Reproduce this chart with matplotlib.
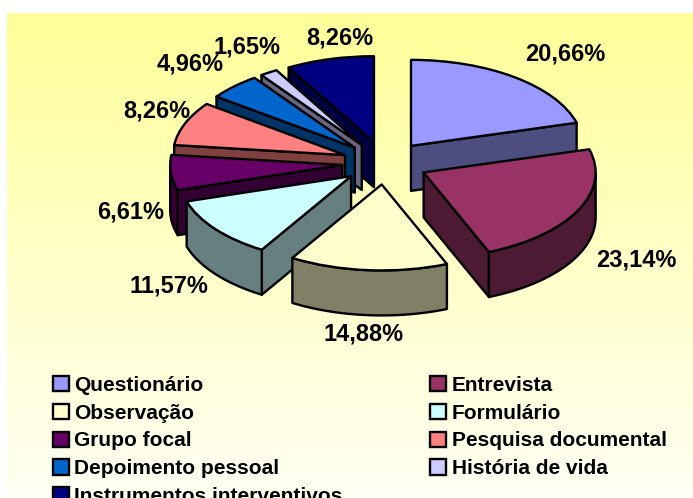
import numpy as np
import matplotlib
matplotlib.use("Agg")
import matplotlib.pyplot as plt
from matplotlib.patches import Polygon

plt.rcParams['font.family'] = ['Liberation Sans', 'DejaVu Sans']

categories = ["Questionário", "Entrevista", "Observação", "Formulário", "Grupo focal",
              "Pesquisa documental", "Depoimento pessoal", "História de vida",
              "Instrumentos interventivos"]
values = [20.66, 23.14, 14.88, 11.57, 6.61, 8.26, 4.96, 1.65, 8.26]
labels = ["20,66%", "23,14%", "14,88%", "11,57%", "6,61%", "8,26%", "4,96%", "1,65%", "8,26%"]
colors = ["#9999FF", "#993366", "#FFFFCC", "#CCFFFF", "#660066",
          "#FF8080", "#0066CC", "#CCCCFF", "#000080"]

# label centres in pixels of the 693x498 picture
label_px = [(565, 54), (636, 260), (364, 334), (169, 286), (131, 212),
            (157, 111), (190, 64), (247, 47), (340, 38)]
# drawing order, back to front
draw_order = [8, 7, 6, 5, 4, 3, 0, 1, 2]
legend_order = [0, 2, 4, 6, 8, 1, 3, 5, 7]

W, H = 693, 498
EXPLODE = 0.25
DEPTH = 45 / 86
edge = dict(edgecolor="black", linewidth=1.7, joinstyle="round")

fig = plt.figure(figsize=(W / 100, H / 100), dpi=100, facecolor="white")

# yellow gradient behind the pie
bg = fig.add_axes([7 / W, 0, (W - 7) / W, (H - 13) / H])
grad = np.linspace(0, 1, 256).reshape(-1, 1)
cmap = matplotlib.colors.LinearSegmentedColormap.from_list("bg", ["#FFFF99", "#FFFFF4"])
bg.imshow(grad, aspect="auto", cmap=cmap)
bg.axis("off")

ax = fig.add_axes([0, 0, 1, 1], facecolor="none")
wedges, _ = ax.pie(values, colors=colors, explode=[EXPLODE] * len(values), startangle=90,
                   counterclock=False, radius=1, normalize=True,
                   wedgeprops=edge)
ax.set_aspect("auto")
ax.set_xlim(-385 / 172, (W - 385) / 172)
ax.set_ylim((163 - H) / 86, 163 / 86)
ax.axis("off")

# clockwise angles from the top, in degrees
fracs = np.array(values) / sum(values) * 360
ends = np.cumsum(fracs)
starts = ends - fracs

for rank, i in enumerate(draw_order):
    a0, a1 = np.radians(starts[i]), np.radians(ends[i])
    mid = (a0 + a1) / 2
    ox, oy = EXPLODE * np.sin(mid), EXPLODE * np.cos(mid)
    side = tuple(0.5 * c for c in matplotlib.colors.to_rgb(colors[i]))
    z = 10 + rank * 2

    def add_side(pts):
        top = np.array(pts)
        low = top[::-1] - [0, DEPTH]
        ax.add_patch(Polygon(np.vstack([top, low]), closed=True, facecolor=side,
                             zorder=z, **edge))

    # radial faces turned to the viewer
    if np.sin(a0) < 0:
        add_side([(ox, oy), (ox + np.sin(a0), oy + np.cos(a0))])
    if np.sin(a1) > 0:
        add_side([(ox, oy), (ox + np.sin(a1), oy + np.cos(a1))])
    # outer face on the lower half of the ellipse
    lo, hi = max(a0, np.pi / 2), min(a1, 3 * np.pi / 2)
    if hi > lo:
        t = np.linspace(lo, hi, 60)
        add_side(np.column_stack([ox + np.sin(t), oy + np.cos(t)]))
    wedges[i].set_zorder(z + 1)

for text, (x, y) in zip(labels, label_px):
    fig.text(x / W, 1 - y / H, text, ha="center", va="center", fontsize=17,
             fontweight="bold", color="black", zorder=50)

fig.legend([wedges[i] for i in legend_order], [categories[i] for i in legend_order],
           ncol=2, loc="upper left", bbox_to_anchor=(53 / W, 1 - 376 / H), frameon=False,
           prop=dict(weight="bold", size=15), handlelength=0.75, handleheight=0.75,
           handletextpad=0.28, labelspacing=0.42, columnspacing=4.2, borderpad=0,
           borderaxespad=0)

fig.savefig("out.png", dpi=100)
